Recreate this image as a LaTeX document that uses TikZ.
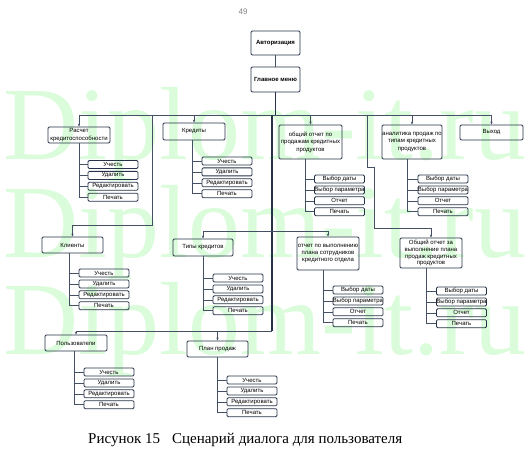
\documentclass[tikz,border=0pt]{standalone}
\usepackage{fontspec}
\setmainfont{Liberation Serif}
\setsansfont{Liberation Sans}
\usetikzlibrary{arrows.meta}
\definecolor{boxc}{RGB}{38,50,72}
\definecolor{linec}{RGB}{70,80,100}
\definecolor{wm}{RGB}{218,252,218}
\newcommand\boxfont{\sffamily\fontsize{6}{7.4}\selectfont}
\tikzset{
  box/.style={draw=boxc, rounded corners=1.2pt, line width=0.8pt, align=center, inner sep=0pt, font=\boxfont},
  sub/.style={box, minimum width=50pt, minimum height=8pt},
  conn/.style={draw=linec, line width=0.6pt},
  trunk/.style={draw=boxc, line width=1.1pt},
  arr/.style={conn, -{Stealth[length=3pt,width=2.4pt]}},
  wmark/.style={text=wm, font=\fontsize{104}{104}\selectfont, inner sep=0pt},
}
\newcommand\subgroup[6]{%
  \coordinate (#1t) at (#3,#5);
  \foreach \lab [count=\i from 0] in {#6} {
    \node[sub] (#1\i) at (#4, {#5+\i*10.9}) {\lab};
    \draw[conn] (#2.south -| #1t) |- (#1\i.west);
  }
}
\begin{document}
\begin{tikzpicture}[x=1pt,y=-1pt]
\useasboundingbox (0,0) rectangle (531,460);
% watermark
\node[wmark, anchor=base west] (w1) at (3,160) {Diplom-it.ru};
\node[wmark, anchor=base west] (w2) at (3,257) {Diplom-it.ru};
\node[wmark, anchor=base west] (w3) at (3,354) {Diplom-it.ru};
% page number
\node[text=gray, font=\sffamily\fontsize{8}{8}\selectfont] (pg) at (243,12) {49};
% top
\node[box, minimum width=49pt, minimum height=24pt, font=\boxfont\bfseries] (auth) at (275.5,43) {Авторизация};
\node[box, minimum width=49pt, minimum height=25pt, font=\boxfont\bfseries] (menu) at (275.5,79.5) {Главное меню};
\draw[conn] (auth) -- (menu);
\coordinate (bus) at (275.5,115);
\draw[trunk] (menu) -- (bus);
% first level boxes
\node[box, minimum width=62pt, minimum height=16pt] (rasch) at (79,135) {Расчет\\кредитоспособности};
\node[box, minimum width=62pt, minimum height=17pt] (kred) at (194,131.5) {Кредиты};
\node[box, minimum width=63pt, minimum height=34pt] (obsh1) at (310.5,142) {общий отчет по\\продажам кредитных\\продуктов};
\node[box, minimum width=60pt, minimum height=34pt] (anal) at (412,142) {аналитика продаж по\\типам кредитных\\продуктов};
\node[box, minimum width=63pt, minimum height=15pt] (vyhod) at (491.5,132.5) {Выход};
\node[box, minimum width=61pt, minimum height=16pt] (klient) at (72.5,245) {Клиенты};
\node[box, minimum width=60pt, minimum height=17pt] (tipy) at (203,247.5) {Типы кредитов};
\node[box, minimum width=62pt, minimum height=33pt] (otch) at (328,253.5) {отчет по выполнению\\плана  сотрудников\\кредитного отдела};
\node[box, minimum width=62pt, minimum height=30pt, font=\sffamily\fontsize{6}{6.8}\selectfont] (obsh2) at (431,253) {Общий отчет за\\выполнение плана\\продаж кредитных\\продуктов};
\node[box, minimum width=62pt, minimum height=16pt] (polz) at (76,343) {Пользователи};
\node[box, minimum width=61pt, minimum height=16pt] (plan) at (217.5,349) {План продаж};
% main bus
\coordinate (bL) at (79,115);
\coordinate (bR) at (491.5,115);
\draw[conn, line width=0.8pt] (bL) -- (bR);
\draw[arr] (rasch.north |- bus) -- (rasch.north);
\draw[arr] (kred.north |- bus) -- (kred.north);
\draw[arr] (obsh1.north |- bus) -- (obsh1.north);
\draw[arr] (anal.north |- bus) -- (anal.north);
\draw[arr] (vyhod.north |- bus) -- (vyhod.north);
% to clients
\coordinate (k1) at (152,115);
\coordinate (kb) at (152,225);
\draw[arr] (k1) -- (kb) -| (klient.north);
% to obsh2
\coordinate (o1) at (367,115);
\coordinate (o2) at (367,167);
\coordinate (o3) at (374,167);
\coordinate (o4) at (374,228);
\draw[arr] (o1) -- (o2) -- (o3) -- (o4) -| (obsh2.north);
% trunk
\coordinate (t1) at (272,115);
\coordinate (t2) at (272,331);
\coordinate (m0) at (272,231);
\draw[trunk] (t1) -- (t2);
\draw[conn] (tipy.north |- m0) -- (otch.north |- m0);
\draw[arr] (tipy.north |- m0) -- (tipy.north);
\draw[arr] (otch.north |- m0) -- (otch.north);
\draw[conn] (polz.north |- t2) -- (t2);
\draw[arr] (polz.north |- t2) -- (polz.north);
\draw[arr] (plan.north |- t2) -- (plan.north);
% sub groups
\subgroup{ra}{rasch}{79}{113}{164.5}{Учесть,Удалить,Редактировать,Печать}
\subgroup{kr}{kred}{192}{227}{161}{Учесть,Удалить,Редактировать,Печать}
\subgroup{oa}{obsh1}{305}{339.5}{179}{Выбор даты,Выбор параметра,Отчет,Печать}
\subgroup{an}{anal}{407}{443}{179}{Выбор даты,Выбор параметра,Отчет,Печать}
\subgroup{kl}{klient}{69}{104}{273}{Учесть,Удалить,Редактировать,Печать}
\subgroup{ti}{tipy}{203}{238}{278}{Учесть,Удалить,Редактировать,Печать}
\subgroup{ot}{otch}{323}{358}{290}{Выбор даты,Выбор параметра,Отчет,Печать}
\subgroup{ob}{obsh2}{426}{461.5}{291}{Выбор даты,Выбор параметра,Отчет,Печать}
\subgroup{po}{polz}{74}{109}{372}{Учесть,Удалить,Редактировать,Печать}
\subgroup{pl}{plan}{217}{252}{380}{Учесть,Удалить,Редактировать,Печать}
% caption
\node[anchor=base west, inner sep=0pt, font=\fontsize{15}{15}\selectfont] (cap) at (88,443) {Рисунок 15\hspace{12pt}Сценарий диалога для пользователя};
\end{tikzpicture}
\end{document}
